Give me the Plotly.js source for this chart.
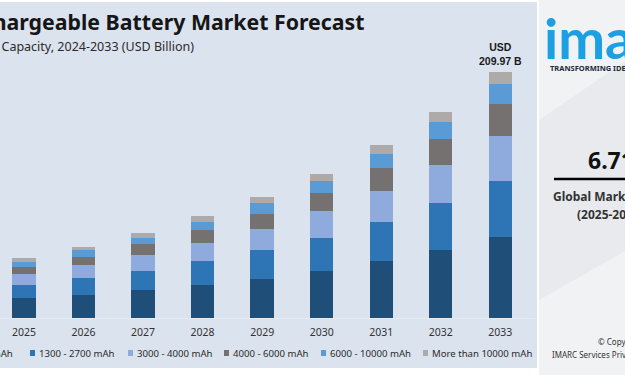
<!DOCTYPE html>
<html>
<head>
<meta charset="utf-8">
<script src="https://cdn.plot.ly/plotly-3.0.1.min.js"></script>
<style>
  html, body { margin: 0; padding: 0; background: #ffffff; }
  #chart { width: 625px; height: 375px; }
</style>
</head>
<body>
<div id="chart"></div>
<script>
// ---- data (USD Billion) ----
const years = [2025, 2026, 2027, 2028, 2029, 2030, 2031, 2032, 2033];
const yearLabels = ["2025", "2026", "2027", "2028", "2029", "2030", "2031", "2032", "2033"];
const seriesNames = ["Less than 1300 mAh", "1300 - 2700 mAh", "3000 - 4000 mAh", "4000 - 6000 mAh", "6000 - 10000 mAh", "More than 10000 mAh"];
const lessThan1300 = [16.8, 19.4, 23.6, 28.4, 33.5, 39.9, 48.6, 57.8, 69.1];
const mah1300to2700 = [11.4, 14.8, 16.8, 19.9, 24.2, 28.8, 33.5, 40.7, 48.1];
const mah3000to4000 = [9.1, 10.8, 13.4, 15.6, 18.5, 22.4, 26.2, 31.8, 37.8];
const mah4000to6000 = [6.6, 7.4, 9.1, 10.8, 12.8, 15.6, 19.4, 22.2, 27.3];
const mah6000to10000 = [3.7, 5.4, 5.7, 7.1, 9.1, 10.5, 12.2, 14.8, 17.1];
const moreThan10000 = [3.4, 2.6, 3.7, 4.9, 5.1, 6.0, 7.4, 8.3, 10.57];
const totalLabel2033 = "USD<br>209.97 B";

// ---- styles ----
const colors = ["#1f4e79", "#2e75b6", "#8faadc", "#767171", "#5b9bd5", "#aeaaaa"];
const seriesValues = [lessThan1300, mah1300to2700, mah3000to4000, mah4000to6000, mah6000to10000, moreThan10000];

const W = 625, H = 375;
const mL = 0, mR = 90, mT = 40, mB = 57;
const plotW = W - mL - mR, plotH = H - mT - mB;
const px = x => (x - mL) / plotW;
const py = y => (H - mB - y) / plotH;

const traces = seriesNames.map((name, i) => ({
  type: "bar",
  name: name,
  x: years,
  y: seriesValues[i],
  width: 0.393,
  marker: { color: colors[i], line: { width: 0 } },
  hoverinfo: "x+y+name"
}));

const totals = years.map((_, j) => seriesValues.reduce((s, arr) => s + arr[j], 0));
const FONT = "Noto Sans, Roboto, sans-serif";

const annotations = [];
const shapes = [
  // main light-blue panel
  { type: "rect", xref: "paper", yref: "paper", x0: px(-2), x1: px(537), y0: py(368), y1: py(2),
    fillcolor: "#dbe3ef", line: { width: 0 }, layer: "below" },
  // right panel
  { type: "rect", xref: "paper", yref: "paper", x0: px(539), x1: px(627), y0: py(377), y1: py(-2),
    fillcolor: "#f1f2f4", line: { width: 0 }, layer: "below" },
  { type: "path", xref: "paper", yref: "paper",
    path: "M " + px(539) + "," + py(120) + " L " + px(627) + "," + py(60) + " L " + px(627) + "," + py(250) + " L " + px(539) + "," + py(300) + " Z",
    fillcolor: "#e8eaee", line: { width: 0 }, layer: "below" },
  // rule under growth number
  { type: "line", xref: "paper", yref: "paper", x0: px(554), x1: px(627), y0: py(179), y1: py(179),
    line: { color: "#000000", width: 2.5 } }
];

// titles (left portion cropped like the reference)
annotations.push({ xref: "paper", yref: "paper", x: px(366), y: py(22), xanchor: "right", yanchor: "middle",
  text: "<b>Rechargeable Battery Market Forecast</b>", showarrow: false,
  font: { family: FONT, size: 21.3, color: "#161616" } });
annotations.push({ xref: "paper", yref: "paper", x: px(196), y: py(47), xanchor: "right", yanchor: "middle",
  text: "Breakup by Capacity, 2024-2033 (USD Billion)", showarrow: false,
  font: { family: FONT, size: 12.5, color: "#2b2b2b" } });
// total label over last bar
annotations.push({ xref: "x", yref: "y", x: years[years.length - 1], y: totals[totals.length - 1],
  yanchor: "bottom", xanchor: "center", yshift: 3, text: "<b>" + totalLabel2033 + "</b>", showarrow: false,
  font: { family: "Liberation Sans, Arial, sans-serif", size: 10.5, color: "#1a1a1a" }, align: "center" });

// custom legend row (squares + labels)
const legendSquareX = [-70, 30, 128, 224, 321, 423];
const legendY = 353;
seriesNames.forEach((name, i) => {
  const sx = legendSquareX[i];
  shapes.push({ type: "rect", xref: "paper", yref: "paper", x0: px(sx), x1: px(sx + 5), y0: py(legendY + 3), y1: py(legendY - 3),
    fillcolor: colors[i], line: { width: 0 } });
  if (i === 0) {
    annotations.push({ xref: "paper", yref: "paper", x: px(15), y: py(legendY), xanchor: "right", yanchor: "middle",
      text: name, showarrow: false, font: { family: FONT, size: 9.6, color: "#2b2b2b" } });
  } else {
    annotations.push({ xref: "paper", yref: "paper", x: px(sx + 7), y: py(legendY), xanchor: "left", yanchor: "middle",
      text: name, showarrow: false, font: { family: FONT, size: 9.6, color: "#2b2b2b" } });
  }
});

// right-side panel
annotations.push({ xref: "paper", yref: "paper", x: px(542), y: py(37), xanchor: "left", yanchor: "middle",
  text: "<b>imarc</b>", showarrow: false, font: { family: "Lato, Noto Sans, sans-serif", size: 56, color: "#1c9fe3" } });
annotations.push({ xref: "paper", yref: "paper", x: px(548), y: py(68), xanchor: "left", yanchor: "middle",
  text: "<b>TRANSFORMING IDEAS INTO IMPACT</b>", showarrow: false, font: { family: FONT, size: 7.5, color: "#1b2a3a" } });
annotations.push({ xref: "paper", yref: "paper", x: px(586), y: py(160), xanchor: "left", yanchor: "middle",
  text: "<b>6.71%</b>", showarrow: false, font: { family: FONT, size: 23, color: "#111111" } });
annotations.push({ xref: "paper", yref: "paper", x: px(551), y: py(196), xanchor: "left", yanchor: "middle",
  text: "<b>Global Market Growth Rate</b>", showarrow: false, font: { family: FONT, size: 12, color: "#333333" } });
annotations.push({ xref: "paper", yref: "paper", x: px(575), y: py(214), xanchor: "left", yanchor: "middle",
  text: "<b>(2025-2033)</b>", showarrow: false, font: { family: FONT, size: 12, color: "#333333" } });
annotations.push({ xref: "paper", yref: "paper", x: px(596), y: py(341), xanchor: "left", yanchor: "middle",
  text: "© Copyright", showarrow: false, font: { family: FONT, size: 8, color: "#333333" } });
annotations.push({ xref: "paper", yref: "paper", x: px(550), y: py(354), xanchor: "left", yanchor: "middle",
  text: "IMARC Services Private Limited", showarrow: false, font: { family: FONT, size: 8, color: "#333333" } });

const layout = {
  width: W, height: H,
  margin: { l: mL, r: mR, t: mT, b: mB, pad: 0 },
  paper_bgcolor: "#ffffff",
  plot_bgcolor: "rgba(0,0,0,0)",
  barmode: "stack",
  bargap: 0,
  showlegend: false,
  xaxis: {
    type: "linear",
    range: [2025 - 24 / 59.54, 2025 - 24 / 59.54 + plotW / 59.54],
    tickmode: "array", tickvals: years, ticktext: yearLabels,
    showgrid: false, zeroline: false,
    showline: true, linecolor: "#e6ebf3", linewidth: 1,
    ticks: "", ticklen: 0, ticklabelstandoff: 4,
    tickfont: { family: FONT, size: 10.5, color: "#333333" },
    fixedrange: true
  },
  yaxis: {
    range: [0, 209.97 * plotH / 246],
    visible: false, showgrid: false, zeroline: false, fixedrange: true
  },
  annotations: annotations,
  shapes: shapes,
  font: { family: FONT }
};

Plotly.newPlot("chart", traces, layout, { displayModeBar: false, staticPlot: true });
</script>
</body>
</html>
